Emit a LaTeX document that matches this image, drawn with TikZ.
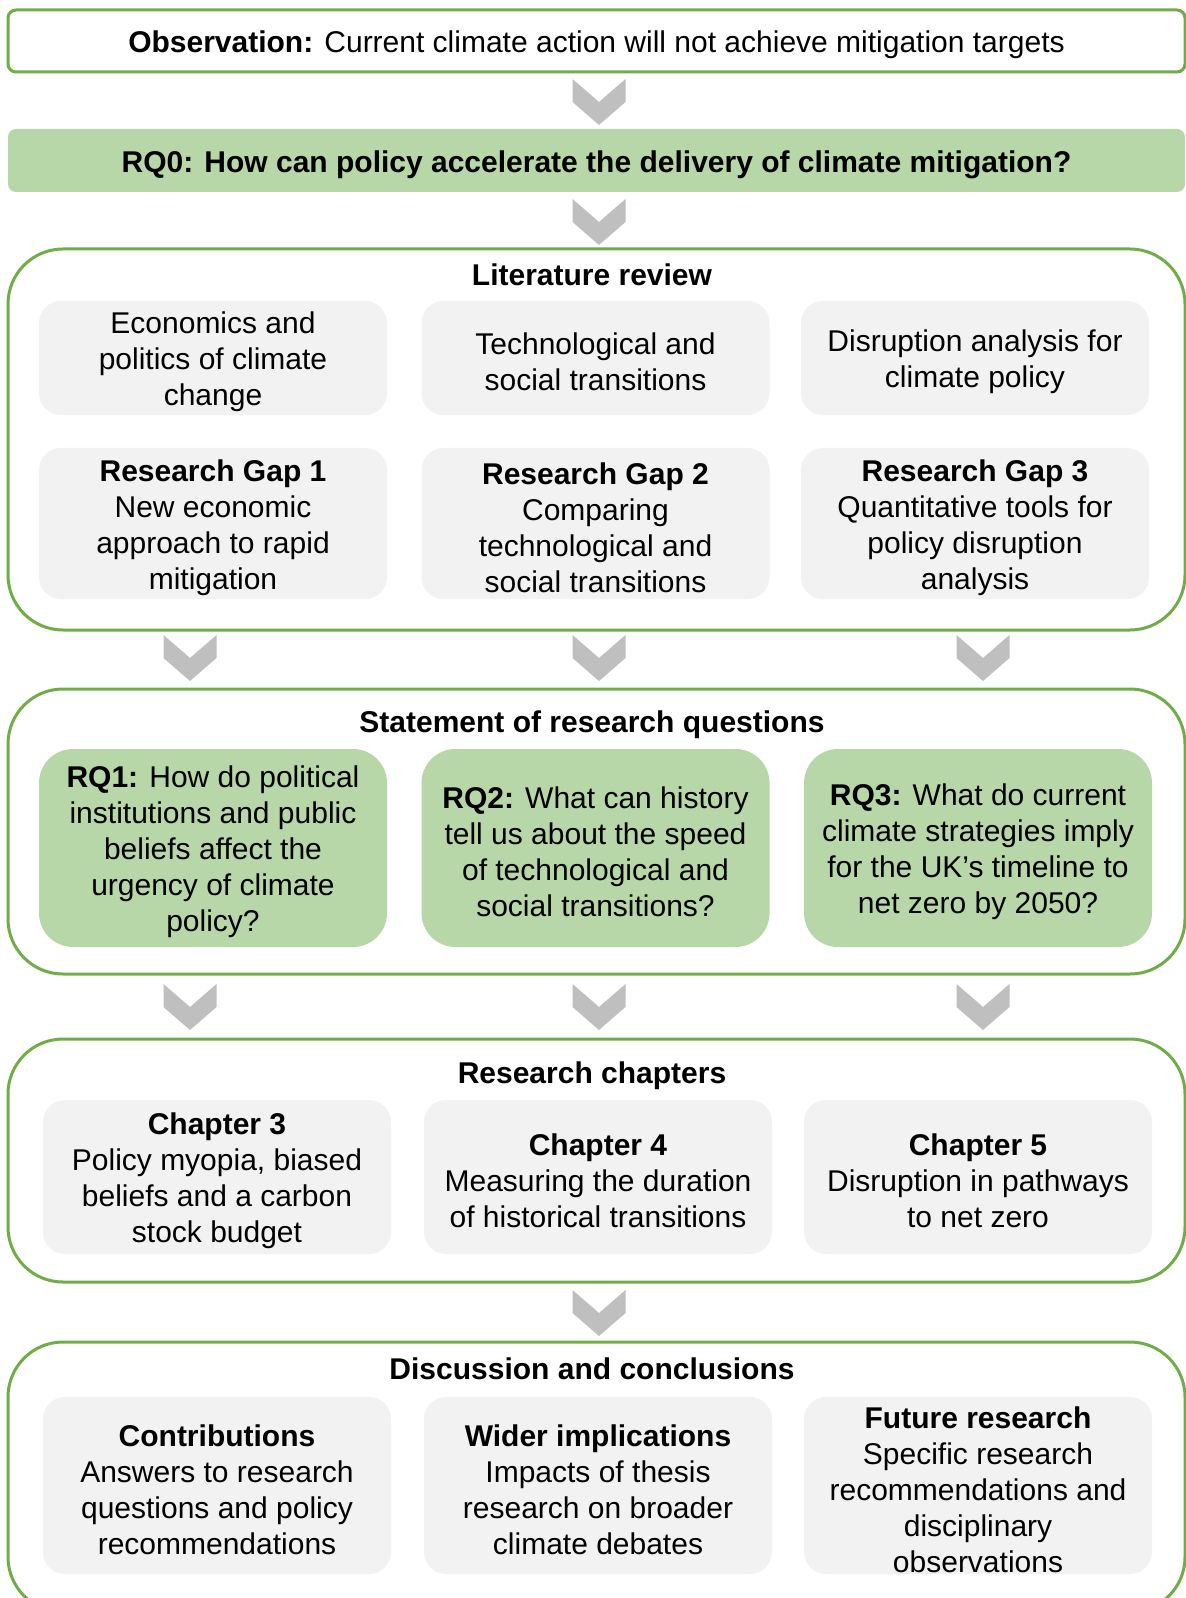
\documentclass[tikz,border=0pt]{standalone}
\usepackage{fontspec}
\setmainfont{Liberation Sans}
\definecolor{frame}{HTML}{70AD47}
\definecolor{leaf}{HTML}{B7D7A8}
\definecolor{shade}{HTML}{F2F2F2}
\definecolor{chev}{HTML}{BFBFBF}
% a tall strut on the first line of a box centres its cap height optically
\newcommand{\lifttext}{\rule{0pt}{15pt}}

\tikzset{
  downchev/.pic={\fill[chev] (-26.5,0) -- (0,23) -- (26.5,0) -- (26.5,23) -- (0,46) -- (-26.5,23) -- cycle;},
  heading/.style={font=\fontsize{15}{18}\selectfont\bfseries, align=center, inner sep=0pt, outer sep=0pt},
  txt/.style={font=\fontsize{15}{18}\selectfont, align=center, inner sep=0pt, outer sep=0pt},
  panel/.style={draw=frame, line width=1.5pt, fill=white, rounded corners=27.5pt, minimum width=588.5pt, inner sep=0pt},
  banner/.style={txt, draw=frame, line width=1.5pt, fill=white, rounded corners=4pt, minimum width=588.5pt},
  qbanner/.style={txt, fill=leaf, rounded corners=4pt, minimum width=588.5pt},
  graybox/.style={txt, fill=shade, rounded corners=11pt, minimum width=174pt},
  greenbox/.style={txt, fill=leaf, rounded corners=17pt, minimum width=174pt},
}

\begin{document}
\begin{tikzpicture}[x=0.5pt, y=-0.5pt]
\useasboundingbox[fill=white] (0,0) rectangle (1186,1598);

% --- observation and overall question ---
\node[banner, minimum height=31pt] (obs) at (596.5,41)
  {\lifttext\textbf{Observation:} Current climate action will not achieve mitigation targets};
\pic at (599,79) {downchev};
\node[qbanner, minimum height=31.5pt] (rq0) at (596.5,160.5)
  {\lifttext\textbf{RQ0: How can policy accelerate the delivery of climate mitigation?}};
\pic at (599,199) {downchev};

% --- literature review ---
\node[panel, minimum height=190.5pt] (litpanel) at (596.5,439.5) {};
\node[heading] (littitle) at (592,275) {Literature review};
\node[graybox, minimum height=57pt] (lit1) at (213,358) {\lifttext Economics and\\politics of climate\\change};
\node[graybox, minimum height=57pt] (lit2) at (595.5,358) {\lifttext Technological and\\social transitions};
\node[graybox, minimum height=57pt] (lit3) at (975,358) {\lifttext Disruption analysis for\\climate policy};
\node[graybox, minimum height=75.5pt] (gap1) at (213,523.5)
  {\lifttext\textbf{Research Gap 1}\\New economic\\approach to rapid\\mitigation};
\node[graybox, minimum height=75.5pt] (gap2) at (595.5,523.5)
  {\lifttext\textbf{Research Gap 2}\\Comparing\\technological and\\social transitions};
\node[graybox, minimum height=75.5pt] (gap3) at (975,523.5)
  {\lifttext\textbf{Research Gap 3}\\Quantitative tools for\\policy disruption\\analysis};

\pic at (190,635) {downchev};
\pic at (599,635) {downchev};
\pic at (983,635) {downchev};

% --- research questions ---
\node[panel, minimum height=142.5pt] (rqpanel) at (596.5,831.5) {};
\node[heading] (rqtitle) at (592,725) {Statement of research questions};
\node[greenbox, minimum height=99pt] (rq1) at (213,848)
  {\lifttext\textbf{RQ1:} How do political\\institutions and public\\beliefs affect the\\urgency of climate\\policy?};
\node[greenbox, minimum height=99pt] (rq2) at (595.5,848)
  {\lifttext\textbf{RQ2:} What can history\\tell us about the speed\\of technological and\\social transitions?};
\node[greenbox, minimum height=99pt] (rq3) at (978,848)
  {\lifttext\textbf{RQ3:} What do current\\climate strategies imply\\for the UK’s timeline to\\net zero by 2050?};

\pic at (190,984) {downchev};
\pic at (599,984) {downchev};
\pic at (983,984) {downchev};

% --- research chapters ---
\node[panel, minimum height=121.5pt] (chpanel) at (596.5,1160.5) {};
\node[heading] (chtitle) at (592,1076) {Research chapters};
\node[graybox, minimum height=77pt] (ch3) at (217,1177)
  {\lifttext\textbf{Chapter 3}\\Policy myopia, biased\\beliefs and a carbon\\stock budget};
\node[graybox, minimum height=77pt] (ch4) at (598,1177)
  {\lifttext\textbf{Chapter 4}\\Measuring the duration\\of historical transitions};
\node[graybox, minimum height=77pt] (ch5) at (978,1177)
  {\lifttext\textbf{Chapter 5}\\Disruption in pathways\\to net zero};

\pic at (599,1290) {downchev};

% --- discussion and conclusions ---
\node[panel, minimum height=135pt] (dcpanel) at (596.5,1477) {};
\node[heading] (dctitle) at (592,1369) {Discussion and conclusions};
\node[graybox, minimum height=88.5pt] (dc1) at (217,1485.5)
  {\lifttext\textbf{Contributions}\\Answers to research\\questions and policy\\recommendations};
\node[graybox, minimum height=88.5pt] (dc2) at (598,1485.5)
  {\lifttext\textbf{Wider implications}\\Impacts of thesis\\research on broader\\climate debates};
\node[graybox, minimum height=88.5pt] (dc3) at (978,1485.5)
  {\lifttext\textbf{Future research}\\Specific research\\recommendations and\\disciplinary\\observations};
\end{tikzpicture}
\end{document}
